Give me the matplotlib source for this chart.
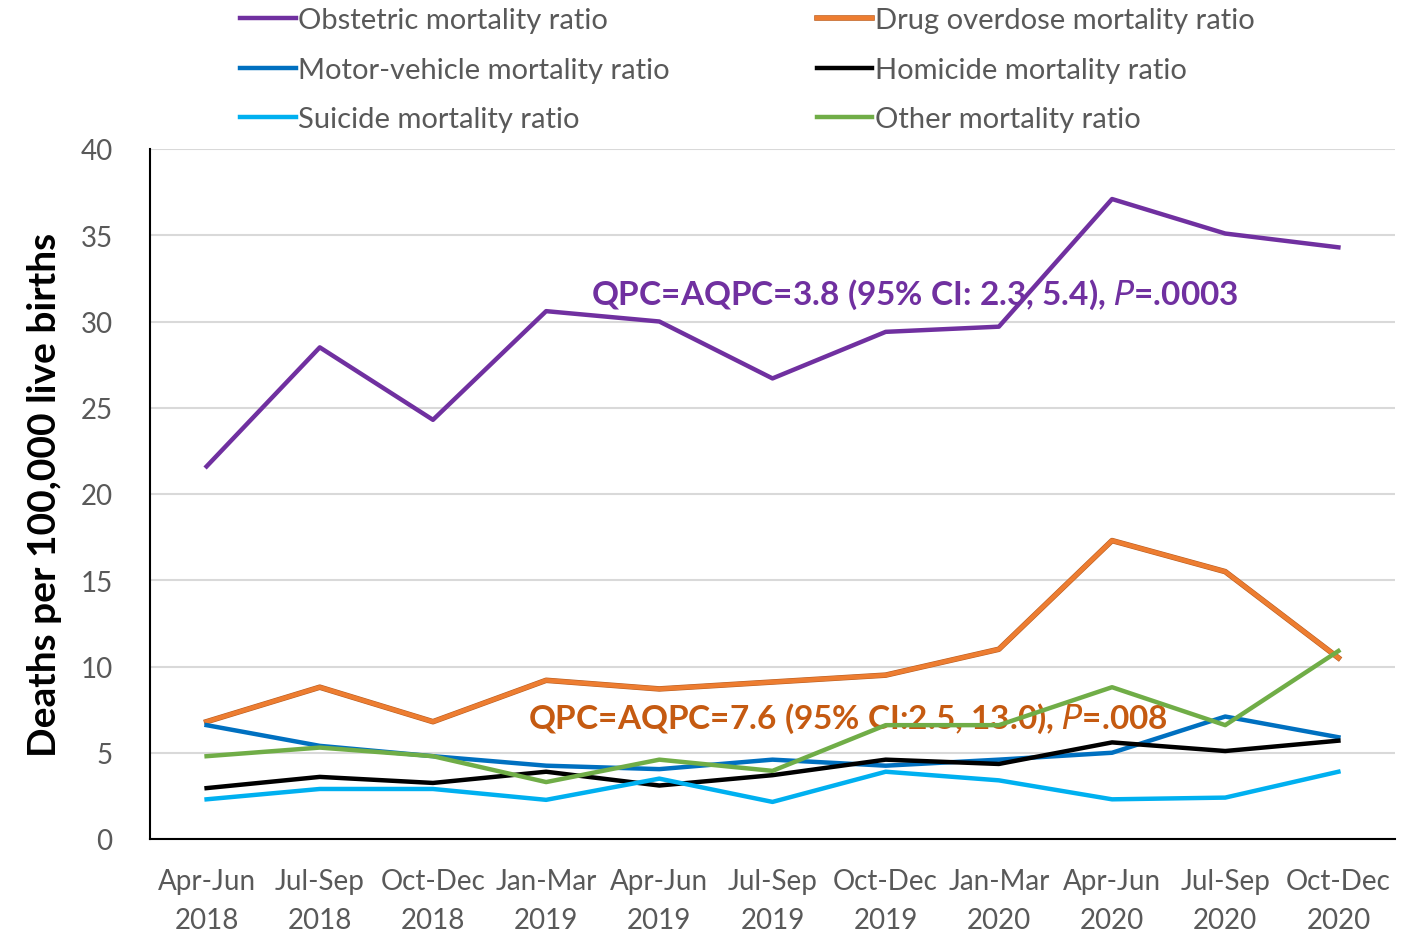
import matplotlib
matplotlib.use('Agg')
import matplotlib.pyplot as plt
import matplotlib.patheffects as pe

plt.rcParams['font.family'] = ['Lato', 'DejaVu Sans']

quarters = ['Apr-Jun\n2018', 'Jul-Sep\n2018', 'Oct-Dec\n2018', 'Jan-Mar\n2019', 'Apr-Jun\n2019',
            'Jul-Sep\n2019', 'Oct-Dec\n2019', 'Jan-Mar\n2020', 'Apr-Jun\n2020', 'Jul-Sep\n2020',
            'Oct-Dec\n2020']

obstetric = [21.6, 28.5, 24.3, 30.6, 30.0, 26.7, 29.4, 29.7, 37.1, 35.1, 34.3]
drug = [6.8, 8.8, 6.8, 9.2, 8.7, 9.1, 9.5, 11.0, 17.3, 15.5, 10.5]
motor = [6.6, 5.4, 4.8, 4.25, 4.05, 4.6, 4.25, 4.6, 5.0, 7.1, 5.9]
homicide = [2.95, 3.6, 3.25, 3.9, 3.1, 3.7, 4.6, 4.35, 5.6, 5.1, 5.7]
suicide = [2.3, 2.9, 2.9, 2.27, 3.5, 2.15, 3.9, 3.4, 2.3, 2.4, 3.9]
other = [4.8, 5.3, 4.8, 3.3, 4.6, 3.95, 6.6, 6.6, 8.8, 6.6, 10.9]

x = list(range(len(quarters)))

fig = plt.figure(figsize=(14.01, 9.37), dpi=100)
ax = fig.add_axes([150/1401, 97/937, 1245/1401, 690/937])

lw = 3.2
l1, = ax.plot(x, obstetric, color='#7030A0', lw=lw, label='Obstetric mortality ratio', zorder=3)
l4, = ax.plot(x, drug, color='#ED7D31', lw=lw, label='Drug overdose mortality ratio', zorder=3,
              path_effects=[pe.Stroke(linewidth=lw + 0.8, foreground='#B85C20'), pe.Normal()])
l2, = ax.plot(x, motor, color='#0070C0', lw=lw, label='Motor-vehicle mortality ratio', zorder=3)
l5, = ax.plot(x, homicide, color='black', lw=lw, label='Homicide mortality ratio', zorder=3)
l3, = ax.plot(x, suicide, color='#00B0F0', lw=lw, label='Suicide mortality ratio', zorder=3)
l6, = ax.plot(x, other, color='#70AD47', lw=lw, label='Other mortality ratio', zorder=3)

ax.set_xlim(-0.5, 10.5)
ax.set_ylim(0, 40)
ax.set_yticks(range(0, 41, 5))
ax.set_xticks(x)
ax.set_xticklabels(quarters, linespacing=1.62)
ax.tick_params(axis='both', length=0, labelsize=20, labelcolor='#595959')
ax.tick_params(axis='y', pad=27)
ax.tick_params(axis='x', pad=21)
ax.grid(axis='y', color='#D9D9D9', lw=1.5, zorder=0)
ax.set_axisbelow(True)
for s in ['top', 'right']:
    ax.spines[s].set_visible(False)
for s in ['left', 'bottom']:
    ax.spines[s].set_color('black')
    ax.spines[s].set_linewidth(1.5)

ax.set_ylabel('Deaths per 100,000 live births', fontsize=28, fontweight='bold', labelpad=13)

ax.text(3.4, 31.6, 'QPC=AQPC=3.8 (95% CI: 2.3, 5.4), $\\it{P}$=.0003', color='#7030A0',
        fontsize=24, fontweight='bold', va='center', ha='left', zorder=2)
ax.text(2.84, 7.0, 'QPC=AQPC=7.6 (95% CI:2.5, 13.0), $\\it{P}$=.008', color='#C55A11',
        fontsize=24, fontweight='bold', va='center', ha='left', zorder=2)

fig.legend(handles=[l1, l2, l3, l4, l5, l6], ncol=2, frameon=False,
           loc='upper left', bbox_to_anchor=(214/1401, 1.019), fontsize=21,
           labelcolor='#595959', handlelength=1.9, handletextpad=0.08,
           columnspacing=5.05, labelspacing=0.8)

fig.savefig('out.png', dpi=100)
